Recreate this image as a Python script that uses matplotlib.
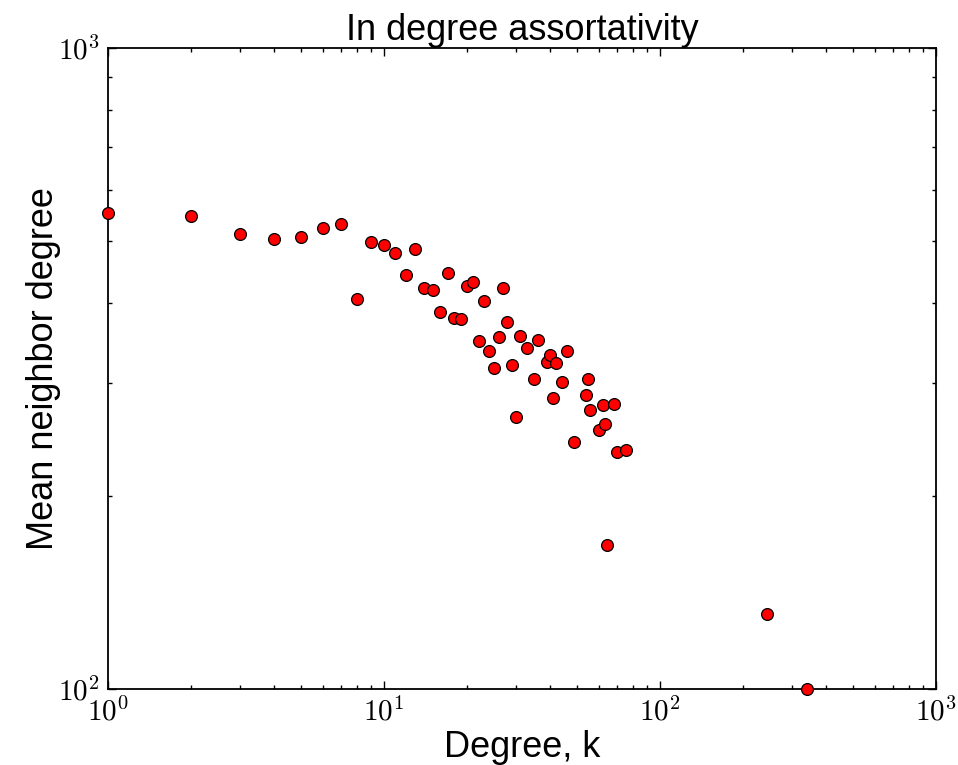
import numpy as np
import matplotlib
matplotlib.use("Agg")
import matplotlib.pyplot as plt
from matplotlib.ticker import FuncFormatter, LogLocator, NullFormatter

# in-degree k and mean neighbor degree
degree = [1, 2, 3, 4, 5, 6, 7, 8, 9, 10, 11, 12, 13, 14, 15, 16, 17, 18, 19,
          20, 21, 22, 23, 24, 25, 26, 27, 28, 29, 30, 31, 33, 35, 36, 39, 40,
          41, 42, 44, 46, 49, 54, 55, 56, 60, 62, 63, 64, 68, 70, 75, 244, 342]
mean_nbr = [553, 547, 513, 504, 507, 523, 532, 406, 499, 493, 479, 442, 486,
            422, 419, 388, 445, 379, 378, 425, 431, 349, 403, 337, 317, 354,
            423, 374, 320, 266, 356, 340, 304, 350, 324, 332, 284, 323, 301,
            337, 243, 287, 305, 272, 254, 277, 259, 168, 278, 234, 236, 131, 100]

plt.rcParams['font.family'] = ['Liberation Sans', 'DejaVu Sans']
plt.rcParams['mathtext.fontset'] = 'cm'

fig = plt.figure(figsize=(9.58, 7.65), dpi=100)
ax = fig.add_axes([108 / 958, 1 - 689 / 765, (936 - 108) / 958, (689 - 48) / 765])

ax.plot(degree, mean_nbr, 'o', color='red', markeredgecolor='black',
        markeredgewidth=0.9, markersize=8.5, clip_on=False, zorder=3)

ax.set_xscale('log')
ax.set_yscale('log')
ax.set_xlim(1, 1000)
ax.set_ylim(100, 1000)

fmt = FuncFormatter(lambda v, p: r'$\mathrm{10^{%d}}$' % round(np.log10(v)))
for axis in (ax.xaxis, ax.yaxis):
    axis.set_major_locator(LogLocator(base=10))
    axis.set_minor_locator(LogLocator(base=10, subs=np.arange(2, 10)))
    axis.set_major_formatter(fmt)
    axis.set_minor_formatter(NullFormatter())

ax.tick_params(which='both', direction='in', top=True, right=True,
               labelsize=21, pad=6)
ax.tick_params(which='major', length=6, width=1)
ax.tick_params(which='minor', length=3, width=1)
for s in ax.spines.values():
    s.set_linewidth(1.3)

ax.set_title('In degree assortativity', fontsize=26, pad=4)
ax.set_xlabel('Degree, k', fontsize=26, labelpad=2)
ax.set_ylabel('Mean neighbor degree', fontsize=26, labelpad=-2)

fig.savefig('out.png', dpi=100)
